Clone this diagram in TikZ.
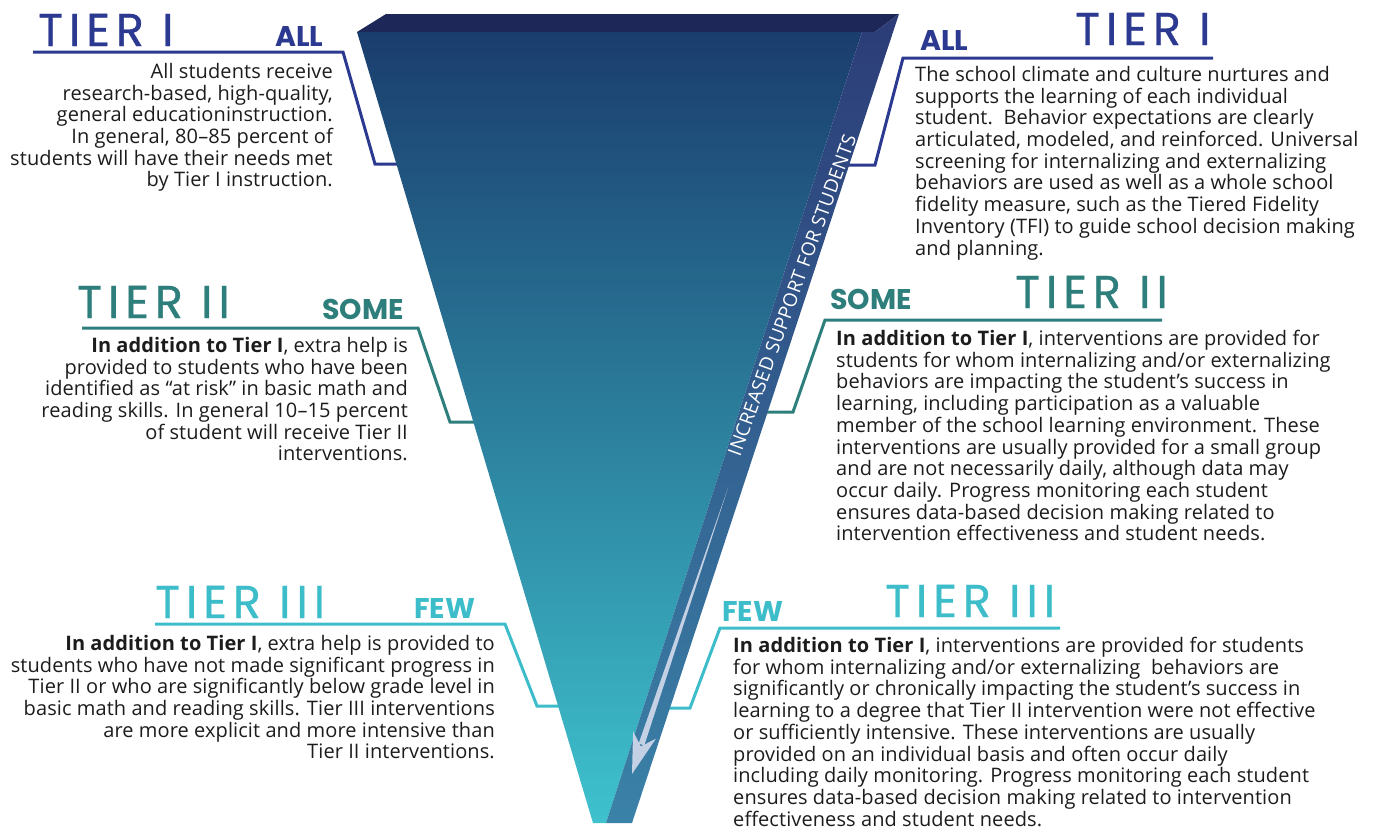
\documentclass[tikz,border=0pt]{standalone}
\usepackage{fontspec}
\setmainfont{Open Sans}[LetterSpace=0.5]
\newfontfamily\tierfont{Poppins}[LetterSpace=13,FakeBold=0.8]
\newfontfamily\qtyfont{Poppins}
\newfontfamily\sidefont{Open Sans}[LetterSpace=2]
\usetikzlibrary{arrows.meta}
\definecolor{tone}{HTML}{2B3990}
\definecolor{ttwo}{HTML}{2E7E7C}
\definecolor{tthree}{HTML}{3DBDCA}
\definecolor{bodytext}{HTML}{1C1C1C}
\definecolor{topface}{HTML}{1E2858}
\definecolor{fronttop}{HTML}{1A3D6E}
\definecolor{frontmid}{HTML}{22668A}
\definecolor{frontbot}{HTML}{3EC2CD}
\definecolor{sidetop}{HTML}{2C3C77}
\definecolor{sidemid}{HTML}{2F4F86}
\definecolor{sidebot}{HTML}{3A82A8}
\definecolor{arrowc}{HTML}{C4D1E4}
\begin{document}
\begin{tikzpicture}[x=1pt,y=-1pt,
  body/.style={font=\fontsize{20}{21.7}\selectfont, text=bodytext, inner sep=0pt},
  bodyR/.style={body, align=right, anchor=north east},
  bodyL/.style={body, align=left, anchor=north west},
  tierhead/.style={font=\tierfont\fontsize{46}{46}\selectfont, inner sep=0pt, anchor=base west},
  qty/.style={font=\qtyfont\bfseries\fontsize{28.5}{28.5}\selectfont, inner sep=0pt, anchor=base west},
  callout/.style={line width=3pt, line join=miter}
]
\useasboundingbox (0,0) rectangle (1376,831);

% callout connectors
\coordinate (a1) at (33,52);   \coordinate (a2) at (343,52);  \coordinate (a3) at (375,164); \coordinate (a4) at (400,164);
\coordinate (b1) at (1213,58); \coordinate (b2) at (903,58);  \coordinate (b3) at (875,165); \coordinate (b4) at (845,165);
\coordinate (c1) at (82,328);  \coordinate (c2) at (418,328); \coordinate (c3) at (450,422); \coordinate (c4) at (478,422);
\coordinate (d1) at (1162,320);\coordinate (d2) at (825,320); \coordinate (d3) at (793,412); \coordinate (d4) at (764,412);
\coordinate (e1) at (155,624); \coordinate (e2) at (505,624); \coordinate (e3) at (537,706); \coordinate (e4) at (562,706);
\coordinate (f1) at (1060,628);\coordinate (f2) at (720,628); \coordinate (f3) at (690,708); \coordinate (f4) at (666,708);
\draw[callout, tone]   (a1) -- (a2) -- (a3) -- (a4);
\draw[callout, tone]   (b1) -- (b2) -- (b3) -- (b4);
\draw[callout, ttwo]   (c1) -- (c2) -- (c3) -- (c4);
\draw[callout, ttwo]   (d1) -- (d2) -- (d3) -- (d4);
\draw[callout, tthree] (e1) -- (e2) -- (e3) -- (e4);
\draw[callout, tthree] (f1) -- (f2) -- (f3) -- (f4);

% funnel
\coordinate (ftl) at (357,32);
\coordinate (ftr) at (875,32);
\coordinate (fbd) at (862,32);
\coordinate (btl) at (386,14);
\coordinate (btr) at (899,14);
\coordinate (tipl) at (593,823);
\coordinate (tipm) at (606,823);
\coordinate (tipr) at (632,823);
\fill[topface] (ftl) -- (btl) -- (btr) -- (ftr) -- cycle;
\shade[top color=fronttop, middle color=frontmid, bottom color=frontbot] (ftl) -- (fbd) -- (tipm) -- (tipl) -- cycle;
\shade[top color=sidetop, middle color=sidemid, bottom color=sidebot] (fbd) -- (ftr) -- (btr) -- (tipr) -- (tipm) -- cycle;

\node[rotate=70, text=white, inner sep=0pt, font=\sidefont\fontsize{19}{19}\selectfont] (side) at (792,295) {INCREASED SUPPORT FOR STUDENTS};

% tapering arrow
\coordinate (as) at (728,488);
\coordinate (ae1) at (638.6,743.6);
\coordinate (ae2) at (644.3,745.4);
\coordinate (atip) at (632,774);
\coordinate (abr) at (655.9,738.7);
\coordinate (anotch) at (640.8,746.4);
\coordinate (abl) at (633.1,731.3);
\fill[arrowc] (as) -- (ae2) -- (ae1) -- cycle;
\fill[arrowc] (atip) -- (abr) -- (anotch) -- (abl) -- cycle;

% headings
\node[tierhead, text=tone] (h1l) at (38,46) {TIER I};
\node[qty, text=tone] (q1l) at (275,46) {ALL};
\node[tierhead, text=tone] (h1r) at (1075,45) {TIER I};
\node[qty, text=tone] (q1r) at (920,50) {ALL};
\node[tierhead, text=ttwo] (h2l) at (77,318) {TIER II};
\node[qty, text=ttwo] (q2l) at (322,319) {SOME};
\node[tierhead, text=ttwo] (h2r) at (1015,308) {TIER II};
\node[qty, text=ttwo] (q2r) at (830,309) {SOME};
\node[tierhead, text=tthree] (h3l) at (155,618) {TIER III};
\node[qty, text=tthree] (q3l) at (414,618) {FEW};
\node[tierhead, text=tthree] (h3r) at (885,617) {TIER III};
\node[qty, text=tthree] (q3r) at (722,621) {FEW};

% body texts
\node[bodyR] (t1l) at (333,63) {All students receive\\research-based, high-quality,\\general educationinstruction.\\In general, 80–85 percent of\\students will have their needs met\\by Tier I instruction.};
\node[bodyL] (t1r) at (915,66) {The school climate and culture nurtures and\\supports the learning of each individual\\student.\ \ Behavior expectations are clearly\\articulated, modeled, and reinforced. Universal\\screening for internalizing and externalizing\\behaviors are used as well as a whole school\\fidelity measure, such as the Tiered Fidelity\\Inventory (TFI) to guide school decision making\\and planning.};
\node[bodyR] (t2l) at (408,337) {\textbf{In addition to Tier I}, extra help is\\provided to students who have been\\identified as “at risk” in basic math and\\reading skills. In general 10–15 percent\\of student will receive Tier II\\interventions.};
\node[bodyL] (t2r) at (836,330) {\textbf{In addition to Tier I}, interventions are provided for\\students for whom internalizing and/or externalizing\\behaviors are impacting the student's success in\\learning, including participation as a valuable\\member of the school learning environment. These\\interventions are usually provided for a small group\\and are not necessarily daily, although data may\\occur daily. Progress monitoring each student\\ensures data-based decision making related to\\intervention effectiveness and student needs.};
\node[bodyR] (t3l) at (495,635) {\textbf{In addition to Tier I}, extra help is provided to\\students who have not made significant progress in\\Tier II or who are significantly below grade level in\\basic math and reading skills. Tier III interventions\\are more explicit and more intensive than\\Tier II interventions.};
\node[bodyL] (t3r) at (733,637) {\textbf{In addition to Tier I}, interventions are provided for students\\for whom internalizing and/or externalizing\ \ behaviors are\\significantly or chronically impacting the student's success in\\learning to a degree that Tier II intervention were not effective\\or sufficiently intensive. These interventions are usually\\provided on an individual basis and often occur daily\\including daily monitoring. Progress monitoring each student\\ensures data-based decision making related to intervention\\effectiveness and student needs.};
\end{tikzpicture}
\end{document}
